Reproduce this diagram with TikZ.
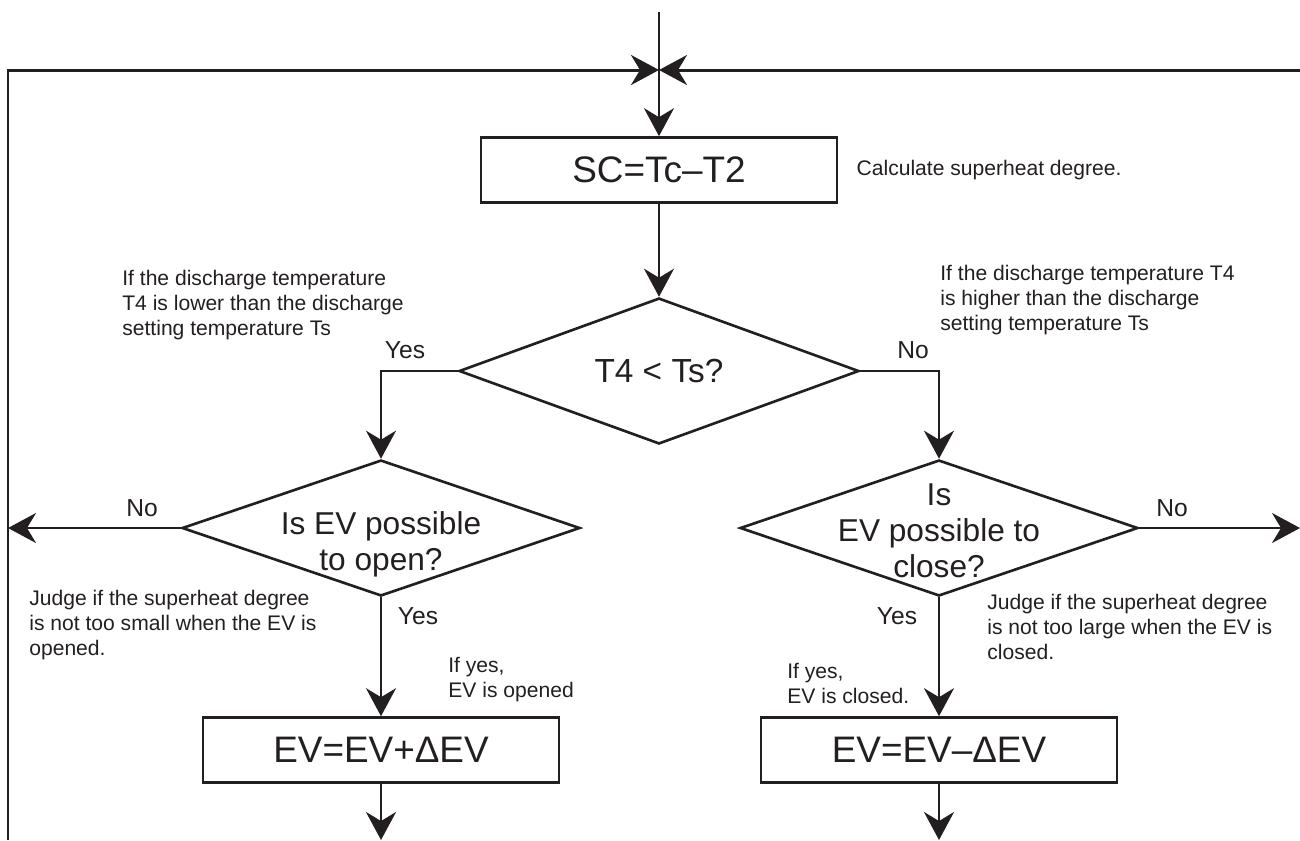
\documentclass[tikz,border=0pt]{standalone}
\usepackage{fontspec}
\setmainfont{Liberation Sans}
\usetikzlibrary{positioning, arrows.meta, shapes.geometric}
\definecolor{ink}{HTML}{231F20}

\begin{document}
\begin{tikzpicture}[x=0.02cm, y=-0.02cm,
  every node/.style={font=\fontsize{12}{14.2}\selectfont, text=ink},
  box/.style={
    draw=ink, line width=1.5pt,
    minimum width=7.12cm, minimum height=1.3cm, font=\fontsize{21}{24}\selectfont
  },
  decision/.style={draw=ink, line width=1.5pt, diamond, inner sep=0pt},
  bigtxt/.style={align=center, font=\fontsize{18}{20.5}\selectfont},
  answer/.style={font=\fontsize{14}{16}\selectfont},
  note/.style={align=left, inner sep=0pt},
  arrow/.style={-{Stealth[length=0.56cm, width=0.6cm, inset=0.18cm]}, ink, line width=1.4pt}
]
  \useasboundingbox (0,0) rectangle (1300,840);

  \coordinate (entry) at (659,12);
  \coordinate (join) at (659,70);
  \coordinate (loopl) at (8,70);
  \coordinate (loopb) at (8,840);
  \coordinate (loopr) at (1300,70);
  \coordinate (outl) at (381,840);
  \coordinate (outr) at (939,840);

  \node[box] (sc) at (659,170) {SC=Tc–T2};
  \node[decision, minimum width=8cm, minimum height=2.92cm] (t4) at (659,371) {};
  \node[bigtxt, font=\fontsize{19}{22}\selectfont] (t4txt) at (t4) {T4 < Ts?};
  \node[decision, minimum width=7.96cm, minimum height=2.72cm] (open) at (381,528) {};
  \node[bigtxt] (opentxt) at (381,544) {Is EV possible\\to open?};
  \node[decision, minimum width=7.96cm, minimum height=2.72cm] (close) at (939,528) {};
  \node[bigtxt] (closetxt) at (939,531) {Is\\EV possible to\\close?};
  \node[box] (evup) at (381,750) {EV=EV+ΔEV};
  \node[box] (evdown) at (939,750) {EV=EV–ΔEV};

  \draw[arrow] (entry) -- (sc);
  \draw[arrow, line width=1.7pt] (loopb) -- (loopl) -- (join);
  \draw[arrow, line width=1.7pt] (loopr) -- (join);
  \draw[arrow] (sc) -- (t4);
  \draw[arrow] (t4.west) -| (open.north);
  \draw[arrow] (t4.east) -| (close.north);
  \draw[arrow] (open.west) -- (open.west -| loopl);
  \draw[arrow] (close.east) -- (close.east -| loopr);
  \draw[arrow] (open) -- (evup);
  \draw[arrow] (close) -- (evdown);
  \draw[arrow] (evup) -- (outl);
  \draw[arrow] (evdown) -- (outr);

  \node[answer] (yes1) at (405,350) {Yes};
  \node[answer] (no1) at (913,350) {No};
  \node[answer] (no2) at (142,508) {No};
  \node[answer] (yes2) at (418,616) {Yes};
  \node[answer] (no3) at (1172,508) {No};
  \node[answer] (yes3) at (897,616) {Yes};

  \node[note, right=0.36cm of sc] (calc) {Calculate superheat degree.};
  \node[note, anchor=west] (lower) at (122,305) {If the discharge temperature\\T4 is lower than the discharge\\setting temperature Ts};
  \node[note, anchor=west] (higher) at (940,300) {If the discharge temperature T4\\is higher than the discharge\\setting temperature Ts};
  \node[note, anchor=west] (small) at (29,625) {Judge if the superheat degree\\is not too small when the EV is\\opened.};
  \node[note, anchor=west] (opened) at (448,680) {If yes,\\EV is opened};
  \node[note, anchor=west] (closed) at (787,683) {If yes,\\EV is closed.};
  \node[note, anchor=west] (large) at (987,627) {Judge if the superheat degree\\is not too large when the EV is\\closed.};
\end{tikzpicture}
\end{document}
